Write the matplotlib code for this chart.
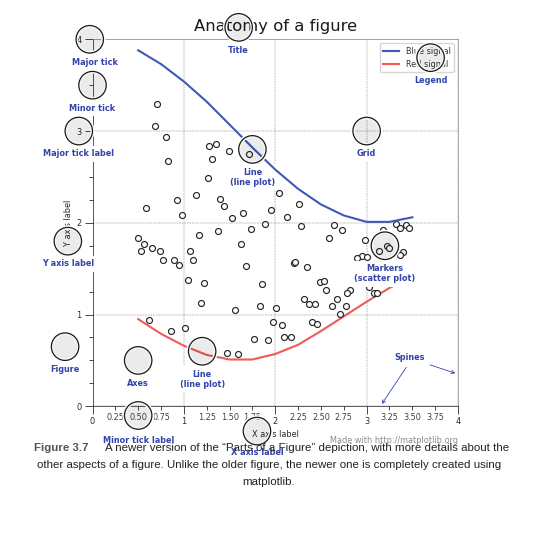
import numpy as np
import matplotlib
matplotlib.use('Agg')
import matplotlib.pyplot as plt
from matplotlib.ticker import MultipleLocator, AutoMinorLocator, FuncFormatter
from matplotlib.patches import Circle
from matplotlib.patheffects import withStroke

K = 0.59  # the picture is the 8x8 in original shrunk to ~59 %
TXT = '#3344aa'

# signals
blue_x = [0.5, 0.75, 1.0, 1.25, 1.5, 1.75, 2.0, 2.25, 2.5, 2.75, 3.0, 3.25, 3.5]
blue_y = [3.88, 3.73, 3.54, 3.32, 3.07, 2.82, 2.58, 2.37, 2.20, 2.08, 2.01, 2.01, 2.06]
red_x = [0.5, 0.75, 1.0, 1.25, 1.5, 1.75, 2.0, 2.25, 2.5, 2.75, 3.0, 3.25, 3.5]
red_y = [0.95, 0.79, 0.66, 0.56, 0.51, 0.51, 0.57, 0.67, 0.82, 0.98, 1.14, 1.29, 1.41]

# scatter markers (x, y)
scatter_pts = [
    (0.71, 3.29), (0.68, 3.05), (0.80, 2.93), (0.83, 2.67), (0.59, 2.16),
    (0.92, 2.25), (1.13, 2.30), (1.28, 2.84), (1.35, 2.86), (1.49, 2.78),
    (1.31, 2.69), (1.26, 2.49), (1.40, 2.26), (1.44, 2.18), (0.98, 2.08),
    (1.17, 1.87), (1.37, 1.91), (0.50, 1.83), (0.56, 1.77), (0.53, 1.69),
    (0.65, 1.72), (0.74, 1.69), (0.77, 1.60), (0.89, 1.60), (0.95, 1.54),
    (1.07, 1.69), (1.10, 1.60), (1.04, 1.38), (1.22, 1.34), (1.19, 1.13),
    (0.62, 0.94), (0.86, 0.82), (1.01, 0.85), (1.71, 2.75), (2.04, 2.32),
    (2.26, 2.21), (1.65, 2.11), (1.95, 2.14), (1.53, 2.05), (2.13, 2.06),
    (1.89, 1.99), (1.74, 1.93), (2.28, 1.96), (1.62, 1.77), (1.68, 1.53),
    (2.20, 1.56), (2.22, 1.57), (2.35, 1.52), (1.86, 1.33), (2.49, 1.35),
    (2.53, 1.37), (2.55, 1.27), (2.31, 1.17), (2.37, 1.11), (2.44, 1.11),
    (1.56, 1.05), (1.83, 1.09), (2.01, 1.07), (1.98, 0.92), (2.07, 0.89),
    (2.40, 0.92), (2.46, 0.90), (1.77, 0.73), (1.92, 0.72), (2.10, 0.76),
    (2.17, 0.76), (1.47, 0.58), (1.59, 0.57), (2.64, 1.98), (2.73, 1.92),
    (2.59, 1.83), (2.98, 1.81), (3.32, 1.99), (3.37, 1.94), (3.43, 1.98),
    (3.46, 1.94), (3.13, 1.69), (3.22, 1.75), (3.25, 1.72), (3.40, 1.68),
    (3.36, 1.65), (2.95, 1.64), (2.89, 1.62), (3.00, 1.63), (2.82, 1.27),
    (2.79, 1.24), (2.68, 1.17), (2.62, 1.09), (2.77, 1.09), (2.71, 1.01),
    (3.03, 1.30), (3.08, 1.24), (3.11, 1.24), (3.18, 1.92),
]

plt.rcParams['font.size'] = 10 * K

fig = plt.figure(figsize=(5.57, 5.49), dpi=100)
ax = fig.add_axes([92.5 / 557, (549 - 406.3) / 549, 365.5 / 557, 367 / 549])


def minor_tick(x, pos):
    if not x % 1.0:
        return ""
    return "%.2f" % x


ax.xaxis.set_major_locator(MultipleLocator(1.000))
ax.xaxis.set_minor_locator(AutoMinorLocator(4))
ax.yaxis.set_major_locator(MultipleLocator(1.000))
ax.yaxis.set_minor_locator(AutoMinorLocator(4))
ax.xaxis.set_minor_formatter(FuncFormatter(minor_tick))

ax.set_xlim(0, 4)
ax.set_ylim(0, 4)

ax.tick_params(which='major', width=1.0 * K, length=10 * K, pad=3.5 * K,
               labelcolor='0.15', color='0.15')
ax.tick_params(which='minor', width=1.0 * K, length=5 * K, pad=3.5 * K,
               labelsize=10 * K, labelcolor='0.25', color='0.15')
for side in ['left', 'bottom']:
    ax.spines[side].set_color('0.15')
    ax.spines[side].set_linewidth(0.9 * K)
for side in ['top', 'right']:
    ax.spines[side].set_color('0.55')
    ax.spines[side].set_linewidth(0.9 * K)

ax.grid(linestyle="--", linewidth=0.6 * K, color='0.5', zorder=-10)

ax.plot(blue_x, blue_y, c='#4058b8', lw=1.5, label="Blue signal", zorder=10)
ax.plot(red_x, red_y, c='#f05a5a', lw=1.5, label="Red signal")
sx = [p[0] for p in scatter_pts]
sy = [p[1] for p in scatter_pts]
ax.plot(sx, sy, linewidth=0, marker='o', markersize=4.3,
        markeredgewidth=0.85, markerfacecolor='w', markeredgecolor='0.15')

ax.set_title("Anatomy of a figure", fontsize=20 * K, verticalalignment='bottom',
             pad=6 * K, color='0.1')
ax.set_xlabel("X axis label", labelpad=4 * K, color='0.15')
ax.set_ylabel("Y axis label", labelpad=4 * K, color='0.15')

ax.legend(loc='upper right', fontsize=10 * K, borderpad=0.4, handlelength=2.0,
          labelcolor='0.2')


def circle(x, y, radius=0.15):
    c = Circle((x, y), radius, clip_on=False, zorder=10, linewidth=0.9,
               edgecolor='0.1', facecolor=(0, 0, 0, .04),
               path_effects=[withStroke(linewidth=5 * K, foreground='w')])
    ax.add_artist(c)


def text(x, y, s):
    ax.text(x, y, s, ha='center', va='top', weight='bold', color=TXT,
            fontsize=10 * K,
            bbox=dict(boxstyle='square,pad=0.4', fc='white', ec='white', lw=0))


circle(0.50, -0.10)
text(0.50, -0.32, "Minor tick label")
circle(-0.03, 4.00)
text(0.03, 3.80, "Major tick")
circle(0.00, 3.50)
text(0.00, 3.30, "Minor tick")
circle(-0.15, 3.00)
text(-0.15, 2.80, "Major tick label")
circle(1.80, -0.27)
text(1.80, -0.45, "X axis label")
circle(-0.27, 1.80)
text(-0.27, 1.6, "Y axis label")
circle(1.60, 4.13)
text(1.60, 3.93, "Title")
circle(1.75, 2.80)
text(1.75, 2.60, "Line\n(line plot)")
circle(1.20, 0.60)
text(1.20, 0.40, "Line\n(line plot)")
circle(3.20, 1.75)
text(3.20, 1.55, "Markers\n(scatter plot)")
circle(3.00, 3.00)
text(3.00, 2.80, "Grid")
circle(3.70, 3.80)
text(3.70, 3.60, "Legend")
circle(0.5, 0.5)
text(0.5, 0.3, "Axes")
circle(-0.3, 0.65)
text(-0.3, 0.45, "Figure")

ax.annotate('Spines', xy=(4.0, 0.35), xytext=(3.3, 0.5),
            weight='bold', color=TXT, fontsize=10 * K,
            arrowprops=dict(arrowstyle='->', connectionstyle="arc3",
                            color=TXT, lw=1 * K))
ax.annotate('', xy=(3.15, 0.0), xytext=(3.45, 0.45),
            color=TXT, fontsize=10 * K,
            arrowprops=dict(arrowstyle='->', connectionstyle="arc3",
                            color=TXT, lw=1 * K))

ax.text(4.0, -0.4, "Made with http://matplotlib.org",
        fontsize=10 * K, ha="right", color='.55')

# caption under the chart
cap_font = ['Liberation Sans Narrow', 'Liberation Sans', 'DejaVu Sans']
W, H = 557, 549
lab = fig.text(34 / W, 1 - 448 / H, "Figure 3.7", fontsize=8.5, weight='bold',
               color='#555555', ha='left', va='center', family=cap_font)
l1 = fig.text(104.5 / W, 1 - 448 / H,
              "A newer version of the \u201cParts of a Figure\u201d depiction, "
              "with more details about the",
              fontsize=8.5, color='#222222', ha='left', va='center', family=cap_font)
l2 = fig.text(269 / W, 1 - 465 / H,
              "other aspects of a figure. Unlike the older figure, the newer one "
              "is completely created using",
              fontsize=8.5, color='#222222', ha='center', va='center', family=cap_font)
l3 = fig.text(269 / W, 1 - 482 / H, "matplotlib.",
              fontsize=8.5, color='#222222', ha='center', va='center', family=cap_font)

# fit the caption size to the width of the first line
fig.canvas.draw()
w = l1.get_window_extent().width
scale = 400.0 / w
for t in (lab, l1, l2, l3):
    t.set_fontsize(8.5 * scale)

fig.savefig('out.png', dpi=100)
